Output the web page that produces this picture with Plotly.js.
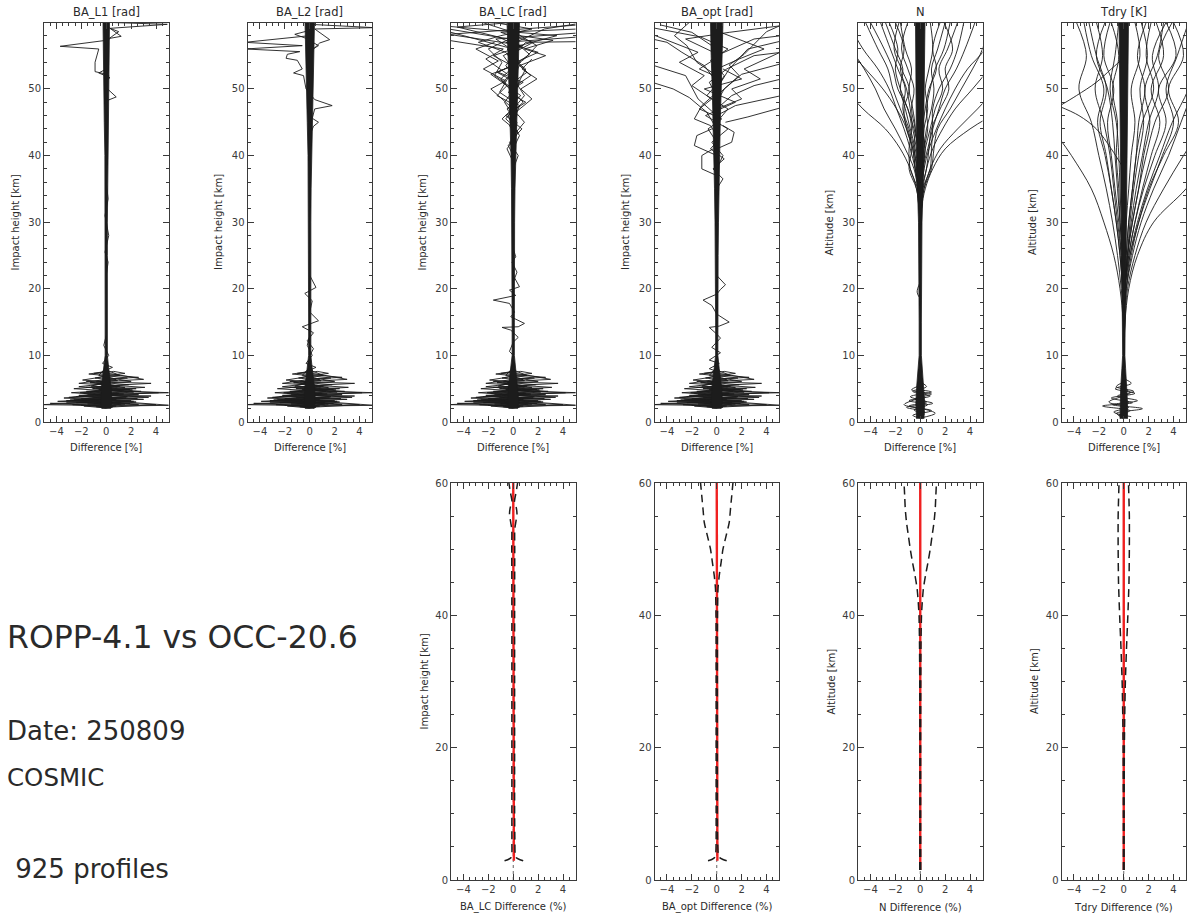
<!DOCTYPE html>
<html>
<head>
<meta charset="utf-8">
<script src="https://cdn.plot.ly/plotly-3.0.1.min.js"></script>
<style>
  html, body { margin: 0; padding: 0; background: #fff; }
  #chart { width: 1187px; height: 916px; }
</style>
</head>
<body>
<div id="chart"></div>
<script>
// ---------------------------------------------------------------
// Labels
// ---------------------------------------------------------------
const panelTitles = ["BA_L1 [rad]", "BA_L2 [rad]", "BA_LC [rad]", "BA_opt [rad]", "N", "Tdry [K]"];
const topYTitles = ["Impact height [km]", "Impact height [km]", "Impact height [km]", "Impact height [km]", "Altitude [km]", "Altitude [km]"];
const topXTitle = "Difference [%]";
const bottomXTitles = ["BA_LC Difference (%)", "BA_opt Difference (%)", "N Difference (%)", "Tdry Difference (%)"];
const bottomYTitles = ["Impact height [km]", "", "Altitude [km]", "Altitude [km]"];
const headline = "ROPP-4.1 vs OCC-20.6";
const infoLines = ["Date: 250809", "COSMIC"];
const countLine = " 925 profiles";

// ---------------------------------------------------------------
// Dense central bundle of each panel: half-width (%) vs height (km)
// ---------------------------------------------------------------
const coreAltBA = [2.0, 3, 5, 8, 10, 15, 20, 25, 30, 35, 40, 45, 50, 55, 60];
const baL1Core  = [0.35, 0.45, 0.40, 0.20, 0.09, 0.09, 0.09, 0.09, 0.09, 0.09, 0.11, 0.16, 0.20, 0.23, 0.26];
const baL2Core  = [0.35, 0.45, 0.40, 0.20, 0.09, 0.09, 0.09, 0.09, 0.09, 0.11, 0.14, 0.20, 0.27, 0.32, 0.38];
const baLCCore  = [0.35, 0.45, 0.40, 0.20, 0.09, 0.09, 0.09, 0.09, 0.11, 0.14, 0.18, 0.25, 0.34, 0.42, 0.50];
const baOptCore = [0.35, 0.45, 0.40, 0.20, 0.09, 0.09, 0.09, 0.11, 0.14, 0.18, 0.22, 0.28, 0.36, 0.45, 0.50];
const coreAltNT = [0.5, 3, 5, 8, 10, 15, 20, 25, 30, 35, 40, 45, 50, 55, 60];
const nCore     = [0.30, 0.35, 0.30, 0.15, 0.09, 0.09, 0.09, 0.11, 0.14, 0.22, 0.28, 0.32, 0.34, 0.36, 0.38];
const tCore     = [0.30, 0.30, 0.25, 0.15, 0.09, 0.11, 0.14, 0.18, 0.23, 0.27, 0.30, 0.32, 0.34, 0.36, 0.38];

// ---------------------------------------------------------------
// Lower-troposphere bending-angle profiles (x %, z km pairs)
// ---------------------------------------------------------------
const baLowProfiles = [
  [0,8.5, 0.2,7.6, -1.0,7.3, 0.1,7.1, 2.6,6.7, 0.3,6.5, -0.5,6.0, 0,5.6, 1.5,5.2, -0.2,4.8, -1.8,4.3, 0.2,3.9, -2.6,3.3, 0.3,3.0, 1.2,2.7, 0,2.3],
  [0,8.0, -0.4,7.4, 0.6,7.2, 3.0,6.4, 1.0,6.2, -1.6,6.1, -0.3,5.7, -2.2,5.3, 0.1,5.0, 2.8,4.6, 0.5,4.4, -3.0,3.7, -0.4,3.4, 1.8,3.1, -1.0,2.8, 0.2,2.4],
  [0,7.8, 1.1,7.0, -0.2,6.8, -1.9,6.3, 0.2,6.0, 3.6,5.8, 0.5,5.5, -2.6,5.0, 0,4.7, 4.2,4.4, 0.2,4.1, -3.4,3.6, 0,3.3, 2.4,3.0, -4.5,2.8, 0.1,2.4],
  [0,8.2, -0.6,7.0, 0.4,6.6, 2.0,6.1, -0.3,5.8, -1.2,5.4, 2.4,5.0, -0.6,4.7, -2.8,4.4, 0.4,4.0, 3.4,3.7, -0.2,3.5, -3.9,3.1, 0.3,2.9, 4.0,2.6, 0,2.2],
  [0,3.5, -1.5,2.9, -5.2,2.6, -1.0,2.5, 0.5,2.3, 0,2.1],
  [0,5.0, 1.5,4.6, 5.2,4.4, 1.0,4.2, 0,4.0],
  [0,3.2, 2.0,2.9, 5.2,2.5, 0.5,2.4, 0,2.2],
  [0,7.6, -1.4,7.2, 0.3,6.9, 1.7,6.6, -0.4,6.3, -2.2,5.8, 0.6,5.5, 3.1,5.2, 0.2,4.9, -1.6,4.6, 1.0,4.3, -2.2,4.0, 1.6,3.6, -2.9,3.3, 2.2,3.1, -1.5,2.7, 0.8,2.4, 0,2.2],
  [0,6.8, 0.8,6.4, -0.8,6.0, 1.8,5.6, -1.6,5.2, 2.1,4.8, -2.1,4.4, 2.6,4.1, -2.4,3.8, 3.0,3.4, -3.2,3.0, 1.5,2.7, -1.8,2.4, 0,2.1],
  [0,6.0, -0.7,5.8, 1.0,5.4, -1.1,5.0, 1.3,4.6, -1.5,4.2, 1.7,3.8, -2.0,3.5, 2.0,3.2, -2.4,2.9, 2.6,2.6, -0.8,2.3, 0,2.1],
  [0,7.4, 0.6,7.6, 1.5,7.3, 0.2,7.0, -0.9,6.6, 0.9,6.2, -1.3,5.9, 1.1,5.4, -0.8,5.1, 1.9,4.9, -1.3,4.5, 1.4,4.2, -1.9,3.9, 2.5,3.5, -2.0,3.2, 1.2,2.9, -2.7,2.6, 0,2.3],
  [0,5.5, 0.9,5.3, -0.6,4.9, 2.2,4.5, -0.9,4.1, 3.6,3.9, -1.1,3.6, 0.8,3.4, -3.2,3.2, 1.9,2.8, -2.0,2.5, 0.5,2.2]
];

// ---------------------------------------------------------------
// Outlying profiles above the lower troposphere (x %, z km pairs)
// ---------------------------------------------------------------
const baL1Outliers = [
  [0.1,60, 4.9,59.7, 0.3,59.1, 1.0,58.6, 0.4,57.8, 0.0,57.3, -3.7,56.4, -0.6,56.0, -0.9,54.0, -0.9,52.6, -0.2,52.3, 0.2,52.0, -0.1,51.0, 0.1,50.0, 0.8,48.8, 0.0,48.2, 0.05,46.0],
  [0.0,59.5, 0.9,58.4, 1.2,57.9, 0.3,57.6, -0.1,56.8],
  [0.0,53.0, -0.6,52.4, 0.3,51.7, 0.0,51.2],
  [0.0,36.0, 0.15,33.5, -0.1,31.0, 0.2,28.0, -0.1,25.5, 0.15,24.0, 0.0,22.0],
  [0.0,13.0, -0.2,11.5, 0.2,10.0, -0.3,8.8, 0.5,8.2, 0,7.8]
];
const baL2Outliers = [
  [0.0,58.0, -5.2,57.0, -0.6,56.5, -5.2,56.0, -0.8,55.6, -1.8,55.2, -1.9,54.6, -1.0,54.3, -0.6,53.0, -1.3,52.4, -0.5,52.0, -0.3,50.0, 0.4,48.4, 1.8,47.5, 0.4,47.0, 0.2,45.6, 0.7,45.0, 0.3,44.4, 0.0,43.0],
  [0.0,59.7, 5.2,59.2, 0.4,59.0, 1.6,57.4, 0.8,56.9, 0.3,56.0, 0.0,55.0],
  [0.0,58.8, -1.2,58.2, -0.3,57.6, 0.7,56.5, -0.2,55.5],
  [0.0,22.0, 0.5,20.2, -0.4,19.3, 0.2,18.2, 0.0,16.5, 0.7,15.2, -0.6,14.3, 0.3,13.4, -0.2,12.2, 0.3,11.0, 0.0,10.0],
  [0.0,13.0, -0.2,11.5, 0.2,10.0, -0.3,8.8, 0.5,8.2, 0,7.8]
];
const baLCOutliers = [
  [0,42, 0.3,45, -0.5,47, 0.6,49, -0.9,51, 0.4,53, -1.6,55, 0.8,56.5, -5.2,58.2, 0.5,59, 5.2,59.6],
  [0,44, -0.4,46, 0.8,48, -0.2,50, 1.4,52, 0.2,54, 2.0,55.5, -0.6,57, 5.2,57.8],
  [0,45, 0.5,47.5, -1.1,49.5, -0.3,52, -2.2,54.5, -0.8,56, -5.2,57.3],
  [0,46, -0.7,48, 0.3,50.5, 1.0,53, -0.4,55, 1.6,57, -1.0,58.5, 5.2,59.0],
  [0,47, 0.9,49, 0.2,51, -1.3,52.5, 0.6,54, -0.5,56, 3.5,58, -5.2,59.4],
  [0,48, -0.3,50, -1.0,51.5, -0.2,53, 0.9,54.5, 1.9,56.5, 0.3,58.3, -2.5,60],
  [0,49, 0.5,51, -0.6,53.5, 0.2,55.5, -1.4,57.5, 5.2,58.4],
  [0,41, 0.5,43, 0.0,44.5, -0.6,45.5, 0.0,47],
  [0,50, -1.5,52, -0.9,54, -2.0,56, -0.3,57.5, -5.2,59.0],
  [0,51, 1.1,52.5, 0.4,54, 1.3,55.2, 0.2,57, 2.5,59, 5.2,59.8],
  [0,40, -0.4,41.5, 0.2,43, -0.3,44.5, 0.3,46, -0.2,48],
  [0,53, -0.8,55, 0.6,56.3, -1.2,57.8, -4.5,59.3, 0.0,60],
  [0,55, 1.0,57.0, 5.2,57.1],
  [0,56, -5.2,58.6],
  [0,38, 0.4,40, -0.3,42, 0.7,44, -0.6,46, 1.0,48, -0.4,49.5, 0.8,51, -1.2,52.5, 0.3,54],
  [0,39, -0.5,41, 0.4,43.5, -0.9,45.5, 0.2,47.5, -1.3,49, -0.5,50.5, -1.8,52.2, 0.0,53.5],
  [0,43, 0.9,45, 0.2,46.5, 1.5,48.5, 0.6,50, 1.9,51.5, 0.7,53, 1.5,54.5],
  [0,47, -0.9,48.5, -1.8,50, -0.6,51.2, -2.4,53, -1.2,54.2, -3.0,56, -1.5,57],
  [0,52, 0.5,53.5, 2.6,55, 0.9,56, 3.2,57.3, 0.5,58],
  [0,54, -0.6,55.5, -2.8,57, -1.0,58, 1.5,59, -1.0,59.8],
  [0,22, 0.5,20.3, -0.3,19.8, 0.2,19.0, -1.6,18.3, -0.3,17.8, 0.1,16.5, -0.2,15.8, 0.9,14.8, 0.4,14.3, -0.9,14.2, -0.2,13.8, 0.4,12.7, 0.0,12.0, -0.3,10.6, 0.0,10.0],
  [0,26, 0.2,24.8, -0.1,24.0, 0.3,22.5, 0,21]
];
const baOptOutliers = [
  [0,44, -0.8,46.5, -2.2,48.7, -3.5,50, -5.2,51.0],
  [0,46, -1.5,48.5, -2.5,52.0, -5.2,53.6],
  [0.7,45, 2.5,45.8, 5.2,47.2],
  [0,46, 1.5,47.5, 5.2,49.0],
  [0,47, 1.2,49, 3.0,50.5, 5.2,51.5],
  [0,48, 0.6,50, 2.0,52.2, 5.2,53.8],
  [0,49, -0.6,51, 0.8,53, 3.0,55.0, 5.2,55.5],
  [0,50, 1.0,53, 2.5,56, 5.2,57.2],
  [0,51, -1.0,53.5, -2.8,55.5, -4.0,57.0, -5.2,57.5],
  [0,52, -1.6,54, -2.4,56.5, -3.4,58, -2.2,60],
  [0,45, 0.9,47, -0.8,49, 0.4,51.5, -1.4,53, 0.3,55, -2.5,57.5, 1.0,58.5, 5.2,59.5],
  [0,50, 0.6,52, -0.5,54.3, 0.9,56.0, -1.3,57.8, -5.2,59.2],
  [0,43, -0.5,44.5, -1.8,45.5, -1.2,47.5, -0.3,49],
  [0,41, 1.2,42, 1.4,43.5, 0.5,44.5],
  [0,40, -1.8,41.5, -1.6,43, -0.4,44],
  [0,37, -1.2,38, -1.2,40, -0.3,41],
  [0,53, 1.8,54.5, 3.8,56, 1.6,57.5, 0.3,58.5, -0.6,60],
  [0,55, 3.0,57.5, 5.2,58.0],
  [0,56, -2.0,58.5, -4.5,59.6],
  [0,49, 0.9,50.5, 1.8,52, 1.0,53.6, 2.2,55.2, 4.0,58.6, 5.2,59.6],
  [0,38, 0.5,40, -0.4,42, 0.9,44, -0.9,46, 1.5,48, -1.0,50, 2.0,51.5, 0.5,53],
  [0,42, -0.7,44, 0.4,45.5, -1.4,47, -0.4,48.5, -2.0,50.5, -1.0,52, -3.0,54, -1.5,55.5, -4.2,57.5, -5.2,58.2],
  [0,47, 2.0,48.5, 1.2,50, 3.5,51.5, 2.2,53, 4.5,55, 5.2,55.6],
  [0,35, 0.5,36.5, -0.3,38, 0.6,39.5, -0.5,41, 0.2,42.5],
  [0,22, 0.7,20.6, 0.3,19.9, 0.0,19.2, -1.1,18.3, -0.4,17.5, 0.0,16.2, 1.0,15.0, 0.2,14.4, -0.6,14.2, 0.0,13.2, 0.3,12.6, -0.4,11.2, 0.3,10.4, -0.6,9.3, 0.2,8.8, -0.6,8.0, 0.0,7.6]
];

// ---------------------------------------------------------------
// Refractivity profiles above 28 km (x % at each level of nLevels)
// ---------------------------------------------------------------
const nLevels = [28, 32, 35, 38, 41, 44, 47, 50, 53, 56, 60];
const nProfiles = [
  [0, -0.1, -0.3, -0.8, -1.6, -2.8, -4.6, -6, -7, -8, -9],
  [0, 0.1, 0.4, 1.0, 2.0, 4.0, 6.5, 8, 9, 10, 11],
  [0, 0.1, 0.3, 0.8, 1.6, 3.0, 4.6, 6.0, 7, 8, 9],
  [0, 0, -0.2, -0.5, -1.2, -2.0, -2.9, -3.6, -4.5, -5.5, -6.5],
  [0, 0, 0.2, 0.5, 1.0, 1.8, 2.8, 4.2, 5.5, 6.5, 7.5],
  [0, 0, 0.1, 0.3, 0.7, 1.3, 2.0, 2.8, 3.8, 5.2, 6],
  [0, 0, -0.1, -0.4, -0.8, -1.3, -1.9, -2.5, -3.4, -4.6, -5.8],
  [0, 0, -0.2, -0.8, -0.9, -0.7, -1.0, -1.8, -2.2, -2.9, -4.0],
  [0, 0, 0.2, 0.8, 0.9, 1.0, 1.0, 1.5, 2.4, 3.0, 3.5],
  [0, 0, -0.1, -0.3, -0.5, -0.9, -1.4, -1.2, -1.8, -2.4, -3.2],
  [0, 0, 0.1, 0.2, 0.4, 0.8, 1.2, 1.8, 1.5, 2.2, 3.0],
  [0, 0, -0.1, -0.2, -0.3, -0.6, -0.8, -1.1, -1.6, -1.3, -2.0],
  [0, 0, 0.1, 0.3, 0.3, 0.5, 0.9, 1.1, 0.9, 1.4, 2.0],
  [0, 0, 0, -0.2, -0.5, -0.4, -0.6, -0.9, -0.7, -1.2, -1.6],
  [0, 0, 0, 0.1, 0.3, 0.6, 0.5, 0.8, 1.2, 1.9, 2.4],
  [0, 0, -0.2, -0.4, -0.6, -1.0, -1.6, -2.2, -2.6, -3.4, -4.4],
  [0, 0, 0.1, 0.2, 0.6, 1.0, 1.5, 2.0, 2.9, 3.6, 4.4],
  [0, 0, 0, -0.1, -0.2, -0.4, -0.7, -0.5, -1.0, -1.5, -1.0],
  [0, 0, 0, 0.1, 0.2, 0.3, 0.6, 0.4, 0.7, 1.0, 0.8],
  [0, -0.1, -0.3, -0.9, -0.7, -1.1, -1.9, -3.0, -4.4, -5.8, -7],
  [0, 0.1, 0.3, 0.9, 1.1, 1.4, 2.4, 3.3, 4.2, 5.0, 5.5],
  [0, 0, -0.1, -0.3, -0.2, -0.5, -1.0, -1.6, -2.0, -1.8, -2.5],
  [0, 0, 0.1, 0.2, 0.4, 0.2, 0.4, 0.7, 1.3, 1.0, 1.6],
  [0, 0, -0.1, -0.2, -0.4, -0.8, -1.2, -1.6, -1.4, -2.0, -2.8],
  [0, 0, 0.1, 0.5, 0.7, 0.9, 1.6, 2.3, 2.0, 2.6, 1.9],
  [0, 0, -0.1, -0.4, -0.6, -1.1, -1.3, -0.9, -1.5, -2.1, -1.7]
];
const nLowProfiles = [
  [0,6, 0.5,5.3, -0.6,4.6, 0.8,3.9, -0.9,3.2, 0.6,2.6, -0.5,1.8, 0.3,1.2, 0,0.5],
  [0,5.5, -0.7,4.8, 0.9,4.2, -0.4,3.5, 1.0,2.8, -1.1,2.2, 0.4,1.5, -0.3,0.8],
  [0,4.8, 0.9,4.5, -0.8,3.8, 0.5,3.0, -0.9,2.4, 0.9,1.7, -0.6,1.0, 0.2,0.5],
  [0,3.6, -1.3,2.6, 0.2,2.0, 1.2,1.3, 0,0.6],
  [0,21, -0.25,19.5, 0,18.5]
];

// ---------------------------------------------------------------
// Dry temperature profiles above 10 km (x % at each level of tLevels)
// ---------------------------------------------------------------
const tLevels = [10, 15, 20, 25, 30, 35, 40, 45, 50, 55, 60];
const tProfiles = [
  [0, -0.05, -0.3, -0.8, -1.6, -2.6, -4.2, -6, -7, -8, -9],
  [0, 0.1, 0.4, 1.1, 2.4, 5.0, 7, 8, 9, 10, 11],
  [0, 0.1, 0.3, 0.9, 1.8, 3.2, 4.8, 6.5, 8, 9, 10],
  [0, 0, 0.2, 0.7, 1.4, 2.4, 3.6, 4.6, 5.6, 6.5, 7],
  [0, 0, 0.2, 0.6, 1.2, 2.1, 3.1, 4.0, 3.4, 4.3, 5.2],
  [0, 0, -0.2, -0.5, -0.9, -1.4, -2.0, -2.6, -3.6, -3.0, -3.8],
  [0, 0, 0.1, 0.4, 0.9, 1.5, 2.2, 2.9, 2.2, 3.2, 2.6],
  [0, 0, -0.1, -0.3, -0.6, -1.0, -1.4, -1.9, -1.4, -2.2, -2.8],
  [0, 0, 0.1, 0.3, 0.6, 1.0, 1.5, 2.0, 2.8, 2.3, 3.4],
  [0, 0, -0.1, -0.2, -0.4, -0.7, -1.0, -1.3, -0.8, -1.6, -1.1],
  [0, 0, 0.1, 0.2, 0.4, 0.7, 1.0, 1.2, 1.7, 1.1, 1.8],
  [0, 0, 0, -0.1, -0.3, -0.5, -0.7, -0.9, -1.3, -2.2, -1.5],
  [0, 0, 0.1, 0.3, 0.7, 1.2, 1.8, 2.5, 3.6, 2.8, 3.9],
  [0, 0, 0, 0.1, 0.2, 0.4, 0.6, 0.9, 0.6, 1.3, 0.9],
  [0, 0, -0.1, -0.3, -0.6, -1.0, -1.5, -2.1, -1.6, -2.6, -3.2],
  [0, 0, 0.2, 0.5, 1.1, 1.9, 2.9, 3.9, 5.2, 6, 7],
  [0, 0, 0.1, 0.2, 0.4, 0.7, 1.0, 1.5, 2.4, 1.8, 2.2],
  [0, 0, 0, -0.1, -0.2, -0.3, -0.4, -0.6, -1.1, -0.7, -0.4],
  [0, 0, 0.1, 0.3, 0.7, 1.2, 1.6, 2.1, 1.7, 2.7, 3.2],
  [0, 0, 0, -0.1, -0.3, -0.4, -0.6, -0.5, -0.9, -0.4, -1.0],
  [0, 0, 0.1, 0.4, 0.9, 1.6, 2.5, 3.4, 2.8, 4.2, 3.4],
  [0, 0, 0.1, 0.3, 0.5, 0.8, 1.2, 1.6, 1.3, 1.9, 1.4],
  [0, 0, -0.1, -0.2, -0.5, -0.8, -1.1, -1.6, -2.3, -1.7, -2.2],
  [0, 0, 0.1, 0.5, 1.2, 2.0, 3.2, 4.4, 3.6, 4.8, 4.0]
];
const tLowProfiles = [
  [0,6.5, 0.6,5.8, -0.7,5.0, 0.9,4.3, -1.0,3.6, 0.7,2.9, -1.7,2.4, 0.5,1.7, -0.4,1.0, 0,0.5],
  [0,6, -0.6,5.3, 0.8,4.6, -0.5,3.9, 1.1,3.2, -0.9,2.6, 1.5,2.0, -0.6,1.3, 0.3,0.6],
  [0,5, 0.5,4.4, -1.2,3.0, 0.4,2.2, -0.8,1.5, 0.6,0.8],
  [0,38, -1.0,41, -2.2,44, -3.6,46, -5.2,47.4],
  [-5.2,47.4, -3.8,49, -2.2,51, -1.0,53, 0.2,55]
];

// ---------------------------------------------------------------
// Mean and standard deviation of the differences (%)
// ---------------------------------------------------------------
const baLCStatAlt = [2.9, 3.1, 3.4, 4, 6, 10, 20, 30, 40, 50, 53, 54, 55.3, 56.2, 57.2, 58.5, 60];
const baLCMean    = [0.05, 0.05, 0.03, 0.02, 0.01, 0, 0, 0, 0, 0, 0, 0, 0, 0, 0, 0, 0];
const baLCStd     = [0.75, 0.45, 0.2, 0.13, 0.12, 0.11, 0.11, 0.11, 0.11, 0.12, 0.12, 0.2, 0.3, 0.25, 0.1, 0.22, 0.35];

const baOptStatAlt = [2.9, 3.1, 3.4, 4, 6, 10, 20, 30, 40, 44, 46, 48, 50, 52, 54, 56, 58, 60];
const baOptMean    = [0.05, 0.05, 0.03, 0.02, 0.01, 0, 0, 0, 0, 0, 0, 0, 0, 0, 0, 0, 0, 0];
const baOptStd     = [0.75, 0.45, 0.2, 0.1, 0.06, 0.05, 0.05, 0.05, 0.06, 0.1, 0.2, 0.35, 0.5, 0.75, 1.0, 1.1, 1.2, 1.3];

const nStatAlt = [1.5, 10, 20, 30, 36, 40, 42, 44, 46, 48, 50, 52, 54, 56, 58, 60];
const nMean    = [0, 0, 0, 0, 0, 0, 0, 0, 0, 0, 0, 0, 0, 0, 0, 0];
const nStd     = [0.04, 0.03, 0.03, 0.04, 0.06, 0.1, 0.16, 0.25, 0.42, 0.62, 0.8, 0.95, 1.1, 1.2, 1.25, 1.3];

const tStatAlt = [1.5, 10, 20, 25, 30, 35, 40, 45, 50, 55, 60];
const tMean    = [0, 0, 0, 0, 0, 0, 0, 0, 0, 0, 0];
const tStd     = [0.03, 0.03, 0.05, 0.08, 0.13, 0.22, 0.33, 0.42, 0.45, 0.45, 0.38];

// ---------------------------------------------------------------
// Page geometry (pixels)
// ---------------------------------------------------------------
const W = 1187, H = 916;
const colLeft = [44, 247.5, 451, 654.5, 858, 1061.5];
const colWidth = 124.5;
const topRow = [23, 422];
const bottomRow = [483, 880];

const INK = '#1c1c1c';
const AXC = '#3a3a3a';
const TXT = '#2a2a2a';
const RED = '#f02020';
const FONT = 'DejaVu Sans';

const axName = n => (n === 1 ? '' : String(n));
const xd = c => [colLeft[c] / W, (colLeft[c] + colWidth) / W];
const yd = r => [1 - r[1] / H, 1 - r[0] / H];

const traces = [];

function pairTrace(arr, n, extra) {
  const x = [], y = [];
  for (let i = 0; i < arr.length; i += 2) { x.push(arr[i]); y.push(arr[i + 1]); }
  return Object.assign({
    type: 'scatter', mode: 'lines', x, y,
    xaxis: 'x' + axName(n), yaxis: 'y' + axName(n),
    hoverinfo: 'skip', showlegend: false,
    line: { color: INK, width: 0.9 }
  }, extra || {});
}

function levelTrace(levels, xs, n) {
  return {
    type: 'scatter', mode: 'lines', x: xs, y: levels,
    xaxis: 'x' + axName(n), yaxis: 'y' + axName(n),
    hoverinfo: 'skip', showlegend: false,
    line: { color: INK, width: 0.9, shape: 'spline', smoothing: 1 }
  };
}

function coreTrace(alt, half, n) {
  const x = half.map(h => -h).concat(half.slice().reverse());
  const y = alt.concat(alt.slice().reverse());
  return {
    type: 'scatter', mode: 'lines', x, y, fill: 'toself', fillcolor: INK,
    xaxis: 'x' + axName(n), yaxis: 'y' + axName(n),
    hoverinfo: 'skip', showlegend: false,
    line: { color: INK, width: 0.8 }
  };
}

// --- top row: individual difference profiles
const baCores = [baL1Core, baL2Core, baLCCore, baOptCore];
const baOutliers = [baL1Outliers, baL2Outliers, baLCOutliers, baOptOutliers];
for (let p = 0; p < 4; p++) {
  const n = p + 1;
  baLowProfiles.forEach(a => traces.push(pairTrace(a, n)));
  baOutliers[p].forEach(a => traces.push(pairTrace(a, n)));
  traces.push(coreTrace(coreAltBA, baCores[p], n));
}
nProfiles.forEach(xs => traces.push(levelTrace(nLevels, xs, 5)));
nLowProfiles.forEach(a => traces.push(pairTrace(a, 5, { line: { color: INK, width: 0.9, shape: 'spline' } })));
traces.push(coreTrace(coreAltNT, nCore, 5));
tProfiles.forEach(xs => traces.push(levelTrace(tLevels, xs, 6)));
tLowProfiles.forEach(a => traces.push(pairTrace(a, 6, { line: { color: INK, width: 0.9, shape: 'spline' } })));
traces.push(coreTrace(coreAltNT, tCore, 6));

// --- bottom row: mean (red) and mean +/- std (dashed)
const stats = [
  [baLCStatAlt, baLCMean, baLCStd],
  [baOptStatAlt, baOptMean, baOptStd],
  [nStatAlt, nMean, nStd],
  [tStatAlt, tMean, tStd]
];
stats.forEach((s, i) => {
  const n = 7 + i;
  const [alt, mean, sd] = s;
  traces.push({
    type: 'scatter', mode: 'lines', x: [0, 0], y: [0, 60],
    xaxis: 'x' + n, yaxis: 'y' + n, hoverinfo: 'skip', showlegend: false,
    line: { color: '#666', width: 1, dash: 'dot' }
  });
  traces.push({
    type: 'scatter', mode: 'lines', x: mean, y: alt,
    xaxis: 'x' + n, yaxis: 'y' + n, hoverinfo: 'skip', showlegend: false,
    line: { color: RED, width: 2.4 }
  });
  [-1, 1].forEach(sgn => {
    traces.push({
      type: 'scatter', mode: 'lines',
      x: mean.map((m, k) => m + sgn * sd[k]), y: alt,
      xaxis: 'x' + n, yaxis: 'y' + n, hoverinfo: 'skip', showlegend: false,
      line: { color: INK, width: 1.5, dash: '8px,5px', shape: 'spline', smoothing: 0.6 }
    });
  });
});

// ---------------------------------------------------------------
// Axes
// ---------------------------------------------------------------
const tickFont = { family: FONT, size: 10, color: AXC };
function xAxis(col, yRef) {
  return {
    domain: xd(col), anchor: yRef, range: [-5, 5], tick0: 0, dtick: 2,
    ticks: 'inside', ticklen: 6, tickcolor: AXC, tickwidth: 1,
    minor: { ticks: 'inside', ticklen: 3, dtick: 0.5, tickcolor: AXC, showgrid: false },
    showline: true, linecolor: AXC, linewidth: 1, mirror: 'ticks',
    showgrid: false, zeroline: false, fixedrange: true, tickfont: tickFont
  };
}
function yAxis(row, xRef, top) {
  return {
    domain: yd(row), anchor: xRef,
    range: top ? [0, 59.9] : [0, 60], tick0: 0, dtick: top ? 10 : 20,
    ticks: 'inside', ticklen: 6, tickcolor: AXC, tickwidth: 1,
    minor: { ticks: 'inside', ticklen: 3, dtick: top ? 2 : 5, tickcolor: AXC, showgrid: false },
    showline: true, linecolor: AXC, linewidth: 1, mirror: 'ticks',
    showgrid: false, zeroline: false, fixedrange: true, tickfont: tickFont
  };
}

const layout = {
  width: W, height: H, margin: { l: 0, r: 0, t: 0, b: 0 },
  paper_bgcolor: '#fff', plot_bgcolor: '#fff', showlegend: false,
  annotations: []
};
for (let c = 0; c < 6; c++) {
  const n = c + 1;
  layout['xaxis' + axName(n)] = xAxis(c, 'y' + axName(n));
  layout['yaxis' + axName(n)] = yAxis(topRow, 'x' + axName(n), true);
}
for (let c = 2; c < 6; c++) {
  const n = c + 5;
  layout['xaxis' + n] = xAxis(c, 'y' + n);
  layout['yaxis' + n] = yAxis(bottomRow, 'x' + n, false);
}

// ---------------------------------------------------------------
// Text
// ---------------------------------------------------------------
const ann = (text, xpx, ypx, size, extra) => Object.assign({
  text, x: xpx / W, y: 1 - ypx / H, xref: 'paper', yref: 'paper',
  showarrow: false, xanchor: 'center', yanchor: 'middle',
  font: { family: FONT, size, color: TXT }
}, extra || {});

for (let c = 0; c < 6; c++) {
  const cx = colLeft[c] + colWidth / 2;
  layout.annotations.push(ann(panelTitles[c], cx, 12, 11.5));
  layout.annotations.push(ann(topXTitle, cx, 447, 10));
  layout.annotations.push(ann(topYTitles[c], colLeft[c] - 29, (topRow[0] + topRow[1]) / 2, 10, { textangle: -90 }));
}
for (let c = 2; c < 6; c++) {
  const cx = colLeft[c] + colWidth / 2;
  layout.annotations.push(ann(bottomXTitles[c - 2], cx, 907, 10));
  if (bottomYTitles[c - 2]) {
    layout.annotations.push(ann(bottomYTitles[c - 2], colLeft[c] - 27, (bottomRow[0] + bottomRow[1]) / 2, 10, { textangle: -90 }));
  }
}
layout.annotations.push(ann(headline, 5, 637, 31.5, { xanchor: 'left' }));
layout.annotations.push(ann(infoLines[0], 5, 731, 26, { xanchor: 'left' }));
layout.annotations.push(ann(infoLines[1], 5, 777, 24.5, { xanchor: 'left' }));
layout.annotations.push(ann(countLine, 5, 869, 26, { xanchor: 'left' }));

Plotly.newPlot('chart', traces, layout, { displayModeBar: false, staticPlot: true });
</script>
</body>
</html>
